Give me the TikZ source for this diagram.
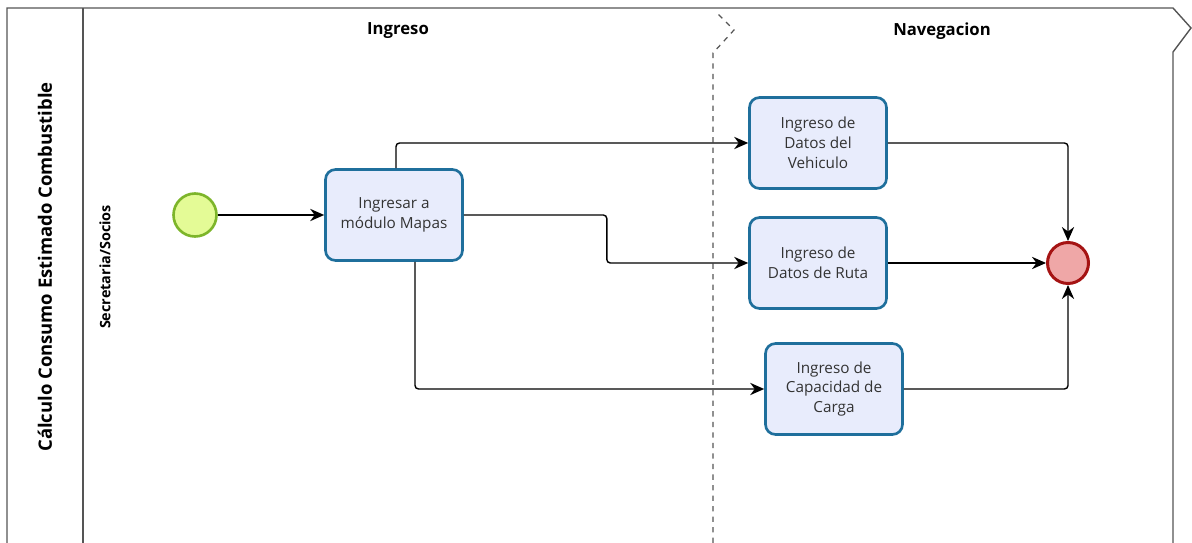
\documentclass[tikz,border=0pt]{standalone}
\usepackage{fontspec}
\setmainfont{Open Sans}
\usetikzlibrary{arrows.meta,positioning}

\definecolor{tareafondo}{HTML}{E8ECFC}
\definecolor{tareaborde}{HTML}{1F6F9C}
\definecolor{iniciofondo}{HTML}{E4FB96}
\definecolor{inicioborde}{HTML}{7DB52A}
\definecolor{finfondo}{HTML}{EFA7A7}
\definecolor{finborde}{HTML}{A51313}
\definecolor{marco}{HTML}{555555}

\begin{document}
\begin{tikzpicture}[x=0.02cm,y=-0.02cm,
    tarea/.style={draw=tareaborde, fill=tareafondo, line width=1.5pt, rounded corners=0.2cm,
      minimum width=2.74cm, minimum height=1.82cm, align=center, text=black!80,
      font=\fontsize{8.7}{11.3}\selectfont},
    flujo/.style={-{Stealth[length=8pt,width=7pt]}, line width=0.8pt, rounded corners=2pt},
    titulo/.style={font=\fontsize{9.5}{11}\selectfont\bfseries}]
    \useasboundingbox (0,0) rectangle (1192,543);
    \draw[marco, line width=0.8pt] (7,543) -- (7,8) -- (1173,8) -- (1191,28) -- (1173,52) -- (1173,543);
    \draw[marco, line width=0.8pt] (83,8) -- (83,543);
    \draw[marco, line width=0.7pt, dashed] (713,543) -- (713,53) -- (734,30) -- (715,11);
    \node[rotate=90, font=\fontsize{10.5}{12}\selectfont\bfseries] (pool) at (45,267) {Cálculo Consumo Estimado Combustible};
    \node[rotate=90, font=\fontsize{8.2}{9}\selectfont\bfseries] (carril) at (105,267) {Secretaria/Socios};
    \node[titulo] (ingreso) at (398,31) {Ingreso};
    \node[titulo] (navegacion) at (942,31) {Navegacion};
    \node[circle, draw=inicioborde, fill=iniciofondo, line width=1.5pt, minimum size=0.86cm] (inicio) at (195,215) {};
    \node[tarea] (mapas) at (394,215) {Ingresar a\\módulo Mapas};
    \node[tarea] (vehiculo) at (818,143) {Ingreso de\\Datos del\\Vehiculo};
    \node[tarea] (ruta) at (818,263) {Ingreso de\\Datos de Ruta};
    \node[tarea] (carga) at (834,389) {Ingreso de\\Capacidad de\\Carga};
    \node[circle, draw=finborde, fill=finfondo, line width=1.7pt, minimum size=0.82cm] (fin) at (1068,263) {};
    \draw[flujo] (inicio) -- (mapas);
    \draw[flujo] ([xshift=0.04cm]mapas.north) |- (vehiculo);
    \draw[flujo] (mapas.east) -- ++(143,0) |- (ruta);
    \draw[flujo] ([xshift=0.42cm]mapas.south) |- (carga);
    \draw[flujo] (vehiculo) -| (fin);
    \draw[flujo] (ruta) -- (fin);
    \draw[flujo] (carga) -| (fin);
\end{tikzpicture}
\end{document}
